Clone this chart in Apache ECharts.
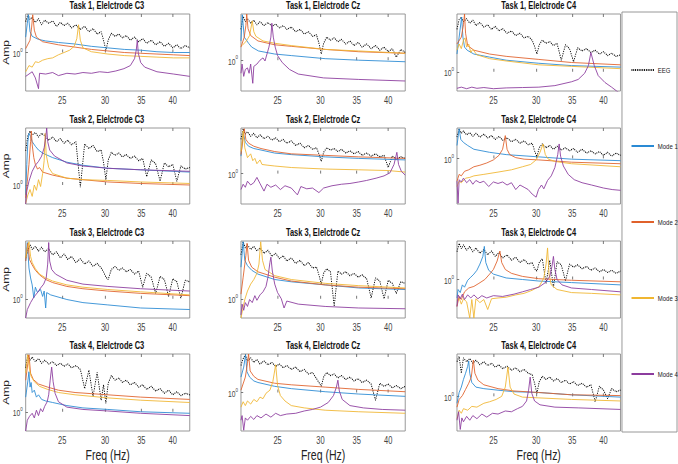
<!DOCTYPE html>
<html>
<head>
<meta charset="utf-8">
<script src="https://cdn.jsdelivr.net/npm/echarts@6/dist/echarts.min.js"></script>
<style>
html,body{margin:0;padding:0;background:#fff;overflow:hidden;}
#wrap{width:678px;height:464px;overflow:hidden;position:relative;background:#fff;}
#chart{width:904px;height:464px;transform:scaleX(0.75);transform-origin:0 0;}
</style>
</head>
<body>
<div id="wrap"><div id="chart"></div></div>
<script>
// ---------------- DATA (frequency in Hz, amplitude as log10(Amp)) ----------------
const SERIES_NAMES = ['EEG', 'Mode 1', 'Mode 2', 'Mode 3', 'Mode 4'];
const X_TICKS = [25, 30, 35, 40];
const X_RANGE = [21.4, 43];
const EEG_FREQ = [21.4,21.6,21.8,22.0,22.3,22.6,22.9,23.2,23.6,24.0,24.4,24.8,25.2,25.6,26.0,26.5,27.0,27.5,28.0,28.5,29.0,29.5,29.8,30.1,30.4,30.8,31.3,31.8,32.3,32.8,33.4,34.0,34.6,35.2,35.8,36.5,37.2,37.9,38.6,39.3,40.0,40.7,41.4,42.2,43.0];

// Task 1, C3
const t1_c3_eeg = [0.40,0.49,0.43,0.46,0.39,0.44,0.36,0.42,0.38,0.41,0.34,0.39,0.35,0.38,0.32,0.36,0.30,0.34,0.27,0.31,0.24,0.27,0.16,0.03,0.16,0.25,0.21,0.24,0.19,0.22,0.16,0.20,0.14,0.18,0.12,0.16,0.10,0.14,0.08,0.12,0.06,0.10,0.05,0.09,0.06];
const t1_c3_m1 = [[21.4,0.20],[21.55,0.38],[21.65,0.49],[21.8,0.27],[22.0,0.21],[22.6,0.17],[23.3,0.15],[24.6,0.13],[26.4,0.11],[28.3,0.08],[30.35,0.06],[32.55,0.04],[34.9,0.03],[37.4,0.01],[40.15,0.00],[43,0.00]];
const t1_c3_m2 = [[21.4,0.05],[21.8,0.16],[21.95,0.33],[22.05,0.49],[22.2,0.29],[22.4,0.20],[23.0,0.14],[24.6,0.10],[26.4,0.07],[28.3,0.04],[30.35,0.02],[32.55,0.00],[34.9,-0.01],[37.4,-0.02],[40.15,-0.03],[43,-0.04]];
const t1_c3_m3 = [[21.4,-0.25],[21.7,-0.17],[22.0,-0.19],[22.3,-0.12],[22.6,-0.13],[23.0,-0.10],[23.5,-0.08],[24.0,-0.07],[24.6,-0.03],[25.2,0.00],[25.8,0.03],[26.3,0.08],[26.6,0.18],[26.8,0.36],[27.0,0.16],[27.3,0.06],[28.3,0.01],[30.35,-0.02],[32.55,-0.04],[34.9,-0.05],[37.4,-0.06],[40.15,-0.07],[43,-0.07]];
const t1_c3_m4 = [[21.4,-0.31],[21.7,-0.28],[22.0,-0.25],[22.3,-0.33],[22.6,-0.47],[22.7,-0.27],[23.3,-0.28],[24.0,-0.26],[24.6,-0.30],[25.5,-0.27],[26.4,-0.28],[27.3,-0.26],[28.3,-0.27],[29.3,-0.25],[30.35,-0.26],[31.4,-0.24],[32.5,-0.21],[33.4,-0.17],[34.0,-0.08],[34.25,0.03],[34.4,0.16],[34.55,-0.01],[34.9,-0.13],[35.5,-0.19],[37.4,-0.25],[40.15,-0.28],[43,-0.31]];

// Task 1, Cz
const t1_cz_eeg = [0.40,0.57,0.50,0.54,0.48,0.52,0.46,0.50,0.45,0.49,0.44,0.47,0.42,0.45,0.40,0.43,0.37,0.40,0.34,0.37,0.31,0.33,0.22,0.08,0.22,0.30,0.26,0.29,0.24,0.27,0.21,0.25,0.19,0.23,0.17,0.21,0.15,0.19,0.13,0.17,0.11,0.15,0.04,0.14,0.10];
const t1_cz_m1 = [[21.4,0.25],[21.52,0.59],[21.7,0.30],[22.1,0.22],[22.4,0.17],[23.05,0.12],[24.7,0.08],[26.5,0.06],[30.6,0.02],[35.3,0.00],[43,-0.02]];
const t1_cz_m2 = [[21.4,0.17],[21.7,0.30],[21.85,0.45],[21.93,0.60],[22.05,0.41],[22.3,0.32],[23.0,0.25],[24.7,0.20],[26.5,0.18],[30.6,0.14],[35.3,0.11],[43,0.09]];
const t1_cz_m3 = [[21.5,0.19],[21.9,0.25],[22.2,0.32],[22.45,0.51],[22.6,0.37],[22.8,0.31],[23.5,0.25],[24.7,0.22],[26.5,0.19],[30.6,0.14],[35.3,0.12],[43,0.09]];
const t1_cz_m4 = [[21.4,-0.17],[21.5,-0.05],[21.65,-0.21],[21.8,-0.12],[22.0,-0.10],[22.15,-0.17],[22.3,-0.05],[22.5,-0.30],[22.6,-0.08],[22.9,-0.05],[23.2,0.00],[23.5,0.03],[23.7,-0.01],[23.9,0.08],[24.1,0.17],[24.3,0.30],[24.4,0.48],[24.55,0.30],[24.75,0.17],[25.0,0.06],[25.5,-0.03],[26.3,-0.12],[27.3,-0.18],[30.4,-0.23],[35.3,-0.25],[43,-0.27]];

// Task 1, C4
const t1_c4_eeg = [0.55,0.68,0.71,0.65,0.69,0.63,0.67,0.60,0.64,0.58,0.61,0.55,0.59,0.53,0.56,0.50,0.53,0.47,0.50,0.44,0.46,0.41,0.33,0.23,0.35,0.41,0.37,0.39,0.34,0.37,0.15,0.35,0.30,0.13,0.31,0.27,0.30,0.25,0.28,0.23,0.26,0.21,0.24,0.20,0.22];
const t1_c4_m1 = [[21.4,0.23],[21.6,0.45],[21.83,0.71],[21.95,0.45],[22.1,0.32],[22.35,0.28],[23.0,0.23],[24.6,0.19],[26.4,0.15],[30.35,0.11],[34.9,0.08],[43,0.06]];
const t1_c4_m2 = [[21.4,0.36],[21.8,0.45],[22.0,0.61],[22.1,0.75],[22.2,0.50],[22.4,0.34],[23.0,0.28],[24.6,0.23],[26.4,0.20],[30.35,0.16],[34.9,0.12],[43,0.09]];
const t1_c4_m3 = [[21.4,0.28],[21.6,0.36],[21.8,0.30],[22.0,0.41],[22.15,0.44],[22.3,0.32],[22.5,0.36],[22.7,0.25],[22.9,0.29],[23.3,0.22],[24.6,0.17],[26.4,0.14],[30.35,0.09],[34.9,0.07],[43,0.04]];
const t1_c4_m4 = [[21.4,-0.215],[21.8,-0.20],[22.3,-0.22],[22.8,-0.20],[23.3,-0.215],[24.0,-0.205],[25.0,-0.22],[26.4,-0.21],[28.3,-0.205],[30.35,-0.20],[32.5,-0.18],[34.9,-0.13],[35.9,-0.10],[36.9,-0.02],[37.5,0.08],[37.9,0.25],[38.45,0.08],[39.1,-0.05],[40.25,-0.14],[41.4,-0.20],[42.3,-0.25],[43,-0.285]];

// Task 2, C3
const t2_c3_eeg = [0.45,0.65,0.71,0.66,0.69,0.63,0.68,0.65,0.59,0.63,0.57,0.61,0.55,0.59,0.53,0.57,-0.03,0.54,0.48,0.52,0.44,0.46,0.30,0.07,0.33,0.43,0.39,0.42,0.37,0.40,0.35,0.38,0.32,0.35,0.11,0.33,0.28,0.05,0.29,0.24,0.27,0.05,0.25,0.21,0.23];
const t2_c3_m1 = [[21.4,-0.13],[21.5,0.27],[21.6,0.57],[21.7,0.68],[21.85,0.64],[22.0,0.57],[22.3,0.51],[22.6,0.46],[23.0,0.42],[24.0,0.36],[25.5,0.30],[27.3,0.26],[30.35,0.22],[34.9,0.20],[43,0.17]];
const t2_c3_m2 = [[21.4,-0.17],[21.55,0.05],[21.7,0.27],[21.85,0.57],[21.92,0.71],[22.0,0.53],[22.15,0.36],[22.3,0.27],[22.5,0.21],[22.7,0.23],[23.0,0.17],[24.0,0.13],[25.5,0.09],[27.3,0.07],[30.35,0.04],[34.9,0.02],[43,0.00]];
const t2_c3_m3 = [[21.4,-0.24],[21.6,-0.13],[21.8,-0.06],[22.0,-0.15],[22.2,0.00],[22.4,-0.07],[22.6,0.07],[22.8,-0.02],[23.0,0.15],[23.15,0.32],[23.25,0.68],[23.35,0.40],[23.6,0.23],[24.0,0.15],[25.5,0.09],[27.3,0.07],[30.35,0.06],[34.9,0.04],[43,0.02]];
const t2_c3_m4 = [[21.4,-0.25],[21.5,-0.08],[21.7,0.05],[22.0,0.18],[22.3,0.26],[22.6,0.31],[22.9,0.38],[23.15,0.49],[23.3,0.62],[23.4,0.75],[23.5,0.57],[23.7,0.46],[24.2,0.38],[25.5,0.29],[27.3,0.25],[30.35,0.22],[34.9,0.20],[43,0.18]];

// Task 2, Cz
const t2_cz_eeg = [0.45,0.59,0.52,0.55,0.49,0.53,0.47,0.51,0.46,0.49,0.44,0.47,0.42,0.45,0.40,0.43,0.37,0.40,0.34,0.37,0.32,0.34,0.26,0.16,0.28,0.34,0.31,0.33,0.29,0.32,0.27,0.30,0.26,0.29,0.24,0.27,0.23,0.26,0.22,0.24,0.08,0.23,0.19,0.22,0.20];
const t2_cz_m1 = [[21.4,0.23],[21.6,0.54],[21.8,0.41],[22.1,0.36],[22.6,0.33],[23.3,0.31],[24.7,0.27],[26.5,0.25],[30.6,0.22],[35.3,0.20],[43,0.18]];
const t2_cz_m2 = [[21.4,0.25],[21.6,0.48],[21.7,0.59],[21.85,0.45],[22.1,0.40],[22.6,0.36],[23.3,0.33],[24.7,0.29],[26.5,0.26],[30.6,0.24],[35.3,0.22],[43,0.20]];
const t2_cz_m3 = [[21.4,0.29],[21.6,0.56],[21.75,0.34],[22.0,0.21],[22.3,0.26],[22.5,0.17],[22.7,0.20],[22.9,0.13],[23.2,0.18],[23.4,0.12],[24.0,0.11],[24.7,0.10],[26.5,0.08],[30.6,0.06],[35.3,0.05],[40.0,0.04],[43,0.02]];
const t2_cz_m4 = [[21.4,-0.21],[21.6,-0.14],[21.8,-0.18],[22.0,-0.10],[22.3,-0.15],[22.6,-0.12],[22.9,-0.05],[23.2,-0.13],[23.6,-0.23],[23.9,-0.14],[24.3,-0.18],[24.8,-0.15],[25.3,-0.21],[25.8,-0.16],[26.5,-0.19],[27.2,-0.28],[27.6,-0.17],[28.3,-0.20],[29.0,-0.19],[29.8,-0.25],[30.4,-0.19],[31.5,-0.16],[32.8,-0.14],[34.0,-0.13],[35.3,-0.11],[36.5,-0.09],[38.0,-0.06],[39.3,-0.03],[40.3,0.01],[41.0,0.12],[41.5,0.28],[41.8,0.12],[42.3,0.03],[43,-0.02]];

// Task 2, C4
const t2_c4_eeg = [0.28,0.39,0.33,0.36,0.31,0.34,0.29,0.33,0.28,0.32,0.27,0.30,0.25,0.29,0.24,0.27,0.22,0.25,0.20,0.23,0.18,0.20,0.10,0.02,0.14,0.19,0.14,0.17,0.12,0.16,0.11,0.14,0.10,0.13,0.08,0.12,0.07,0.10,0.06,0.09,0.04,0.08,0.03,0.07,0.04];
const t2_c4_m1 = [[21.4,0.17],[21.6,0.39],[21.75,0.25],[22.0,0.21],[22.4,0.17],[23.0,0.12],[24.6,0.08],[26.4,0.05],[30.35,0.02],[34.9,-0.01],[43,-0.03]];
const t2_c4_m2 = [[21.4,-0.30],[21.6,-0.21],[21.8,-0.23],[22.1,-0.17],[22.5,-0.15],[23.0,-0.11],[23.6,-0.09],[24.3,-0.06],[25.0,-0.02],[25.6,0.04],[26.0,0.12],[26.3,0.30],[26.5,0.12],[26.8,0.05],[27.5,0.01],[28.5,-0.01],[30.35,-0.02],[34.9,-0.05],[43,-0.07]];
const t2_c4_m3 = [[21.4,-0.37],[21.6,-0.30],[21.8,-0.32],[22.2,-0.26],[22.6,-0.25],[23.0,-0.23],[24.0,-0.21],[25.5,-0.18],[27.0,-0.15],[28.3,-0.11],[29.3,-0.08],[30.0,-0.02],[30.5,0.08],[30.9,0.19],[31.2,0.05],[31.6,-0.01],[32.5,-0.04],[34.9,-0.07],[43,-0.11]];
const t2_c4_m4 = [[21.4,-0.30],[21.5,-0.59],[21.6,-0.28],[21.8,-0.31],[22.0,-0.26],[22.3,-0.32],[22.6,-0.28],[22.9,-0.34],[23.2,-0.29],[23.6,-0.32],[24.0,-0.30],[24.5,-0.37],[25.0,-0.31],[25.5,-0.33],[26.0,-0.31],[26.5,-0.35],[27.0,-0.32],[27.5,-0.41],[28.0,-0.35],[28.5,-0.38],[29.0,-0.41],[29.5,-0.47],[30.0,-0.51],[30.3,-0.41],[30.7,-0.35],[31.0,-0.40],[31.5,-0.29],[32.0,-0.23],[32.5,-0.12],[32.9,0.05],[33.1,0.19],[33.3,0.03],[33.7,-0.10],[34.4,-0.21],[35.3,-0.28],[36.5,-0.32],[38.0,-0.35],[40.0,-0.39],[41.5,-0.41],[43,-0.42]];

// Task 3, C3
const t3_c3_eeg = [0.53,0.63,0.70,0.64,0.68,0.62,0.67,0.61,0.65,0.57,0.61,0.53,0.58,0.51,0.55,0.47,0.52,0.45,0.49,0.42,0.46,0.40,0.35,0.28,0.25,0.38,0.42,0.37,0.40,0.35,0.38,0.32,0.36,0.15,0.33,0.28,0.07,0.29,0.25,0.03,0.26,0.22,0.01,0.24,0.22];
const t3_c3_m1 = [[21.4,0.49],[21.55,0.73],[21.7,0.40],[21.85,0.27],[22.0,0.18],[22.15,0.01],[22.3,0.15],[22.5,0.08],[22.8,0.12],[23.0,0.03],[23.15,0.10],[23.3,-0.12],[23.4,0.08],[23.8,0.05],[25.5,-0.01],[27.3,-0.05],[30.35,-0.08],[34.9,-0.12],[43,-0.14]];
const t3_c3_m2 = [[21.4,0.49],[21.6,0.72],[21.75,0.51],[22.0,0.44],[22.3,0.37],[22.7,0.31],[23.3,0.25],[24.0,0.21],[25.5,0.16],[27.3,0.13],[30.35,0.10],[34.9,0.07],[43,0.04]];
const t3_c3_m3 = [[21.4,0.53],[21.55,0.66],[21.7,0.74],[21.85,0.55],[22.0,0.47],[22.3,0.39],[22.7,0.32],[23.3,0.27],[24.0,0.23],[25.5,0.18],[27.3,0.15],[30.35,0.12],[34.9,0.09],[43,0.05]];
const t3_c3_m4 = [[21.4,-0.25],[21.55,-0.14],[21.85,-0.05],[22.15,0.02],[22.5,0.08],[22.8,0.14],[23.1,0.19],[23.35,0.27],[23.5,0.45],[23.6,0.73],[23.7,0.49],[23.9,0.38],[24.3,0.32],[25.5,0.24],[27.3,0.19],[30.35,0.16],[34.9,0.13],[43,0.10]];

// Task 3, Cz
const t3_cz_eeg = [0.57,0.74,0.66,0.70,0.64,0.68,0.62,0.66,0.59,0.63,0.55,0.59,0.52,0.56,0.49,0.53,0.46,0.50,0.43,0.47,0.40,0.41,0.31,0.19,0.33,0.39,0.35,-0.10,0.36,0.32,0.35,0.30,0.33,0.28,0.31,0.26,0.01,0.27,0.23,0.00,0.24,0.20,0.07,0.22,0.20];
const t3_cz_m1 = [[21.4,0.41],[21.6,0.74],[21.75,0.50],[22.0,0.43],[22.4,0.37],[23.0,0.32],[24.7,0.25],[26.5,0.22],[30.6,0.18],[35.3,0.14],[43,0.12]];
const t3_cz_m2 = [[21.4,0.06],[21.6,0.28],[21.75,0.45],[21.85,0.56],[21.96,0.72],[22.1,0.50],[22.4,0.41],[23.0,0.35],[24.7,0.28],[26.5,0.23],[30.6,0.18],[35.3,0.15],[43,0.13]];
const t3_cz_m3 = [[21.4,-0.25],[21.55,-0.14],[21.75,-0.01],[22.0,0.10],[22.3,0.19],[22.6,0.25],[22.9,0.33],[23.1,0.45],[23.27,0.74],[23.45,0.50],[23.7,0.38],[24.7,0.30],[26.5,0.25],[30.6,0.20],[35.3,0.17],[43,0.14]];
const t3_cz_m4 = [[21.4,-0.21],[21.5,-0.07],[21.65,-0.15],[21.8,-0.05],[22.0,-0.10],[22.2,-0.01],[22.45,-0.05],[22.7,0.04],[22.9,-0.02],[23.2,0.05],[23.5,0.09],[23.8,0.16],[24.0,0.28],[24.2,0.47],[24.3,0.54],[24.45,0.36],[24.7,0.19],[25.0,0.08],[25.4,0.00],[25.7,-0.12],[26.0,-0.03],[27.3,-0.07],[30.6,-0.10],[35.3,-0.12],[43,-0.13]];

// Task 3, C4
const t3_c4_eeg = [0.36,0.47,0.40,0.45,0.38,0.43,0.36,0.41,0.34,0.39,0.32,0.37,0.30,0.35,0.28,0.32,0.25,0.29,0.22,0.26,0.20,0.22,0.14,0.11,0.22,0.27,-0.05,0.25,-0.10,0.23,0.19,-0.02,0.20,0.16,0.19,0.14,0.17,0.12,0.15,0.10,0.13,0.09,0.12,0.08,0.11];
const t3_c4_m1 = [[21.4,-0.24],[21.5,-0.13],[21.7,-0.17],[21.9,-0.07],[22.1,-0.10],[22.4,-0.01],[22.7,0.03],[23.0,0.07],[23.3,0.12],[23.6,0.20],[23.9,0.30],[24.05,0.43],[24.2,0.22],[24.5,0.12],[25.0,0.07],[26.4,0.02],[28.3,0.00],[30.35,-0.02],[34.9,-0.04],[43,-0.07]];
const t3_c4_m2 = [[21.4,-0.35],[21.6,-0.22],[21.8,-0.26],[22.1,-0.16],[22.5,-0.11],[23.0,-0.09],[23.5,-0.05],[24.1,0.00],[24.6,0.07],[25.0,0.13],[25.4,0.24],[25.7,0.37],[25.9,0.22],[26.3,0.13],[27.0,0.08],[28.3,0.04],[30.35,0.01],[34.9,-0.01],[43,-0.03]];
const t3_c4_m3 = [[21.4,-0.28],[21.6,-0.24],[21.8,-0.32],[22.0,-0.25],[22.3,-0.29],[22.6,-0.50],[22.8,-0.26],[23.0,-0.50],[23.2,-0.25],[23.6,-0.30],[24.0,-0.26],[24.4,-0.39],[24.8,-0.25],[25.5,-0.24],[26.4,-0.23],[27.5,-0.20],[28.5,-0.18],[29.5,-0.14],[30.4,-0.09],[31.0,0.02],[31.3,0.20],[31.5,0.41],[31.7,0.07],[32.0,-0.07],[32.8,-0.13],[34.9,-0.17],[38.0,-0.18],[43,-0.20]];
const t3_c4_m4 = [[21.4,-0.35],[21.5,-0.20],[21.7,-0.25],[21.9,-0.19],[22.1,-0.26],[22.4,-0.20],[22.7,-0.24],[23.0,-0.20],[23.4,-0.25],[23.8,-0.21],[24.3,-0.24],[25.0,-0.21],[26.0,-0.22],[27.3,-0.19],[28.3,-0.16],[29.3,-0.13],[30.35,-0.10],[31.2,-0.04],[31.8,0.04],[32.1,0.17],[32.3,0.30],[32.5,0.13],[32.8,0.00],[33.5,-0.07],[34.9,-0.11],[38.0,-0.13],[43,-0.16]];

// Task 4, C3
const t4_c3_eeg = [0.57,0.74,0.67,0.71,0.65,0.69,0.63,0.67,0.62,0.65,0.60,0.63,0.59,0.62,0.57,0.60,0.55,0.30,0.54,0.20,0.51,0.15,0.35,0.11,0.37,0.47,0.41,0.44,0.38,0.41,0.35,0.38,0.32,0.35,0.29,0.33,0.27,0.30,0.24,0.28,0.22,0.26,0.21,0.24,0.22];
const t4_c3_m1 = [[21.4,0.19],[21.6,0.40],[21.7,0.52],[21.8,0.32],[21.9,0.38],[22.0,0.25],[22.2,0.28],[22.4,0.19],[22.6,0.22],[22.9,0.16],[23.3,0.14],[24.0,0.12],[25.5,0.08],[27.3,0.05],[30.35,0.03],[34.9,0.00],[43,-0.02]];
const t4_c3_m2 = [[21.4,0.41],[21.6,0.63],[21.7,0.74],[21.85,0.50],[22.1,0.42],[22.6,0.36],[23.5,0.32],[24.6,0.28],[26.4,0.25],[30.35,0.22],[34.9,0.19],[43,0.16]];
const t4_c3_m3 = [[21.4,0.50],[21.58,0.74],[21.75,0.55],[21.9,0.46],[22.2,0.39],[22.7,0.33],[23.5,0.29],[24.6,0.25],[26.4,0.22],[30.35,0.18],[34.9,0.15],[43,0.12]];
const t4_c3_m4 = [[21.4,-0.25],[21.55,-0.11],[21.75,-0.06],[22.0,-0.02],[22.2,-0.08],[22.4,0.02],[22.6,-0.05],[22.8,0.04],[23.0,0.00],[23.2,0.07],[23.45,0.13],[23.6,0.22],[23.75,0.41],[23.9,0.58],[24.05,0.39],[24.25,0.24],[24.6,0.13],[25.5,0.06],[27.3,0.03],[30.35,0.01],[34.9,-0.02],[43,-0.05]];

// Task 4, Cz
const t4_cz_eeg = [0.35,0.44,0.49,0.41,0.45,0.39,0.43,0.37,0.41,0.36,0.39,0.34,0.37,0.32,0.35,0.30,0.33,0.27,0.30,0.24,0.26,0.18,0.13,0.08,0.20,0.26,0.22,0.24,0.19,0.22,0.17,0.20,0.15,0.18,0.13,0.16,0.11,-0.10,0.12,0.08,0.11,0.06,0.09,0.05,0.08];
const t4_cz_m1 = [[21.4,0.20],[21.65,0.33],[21.82,0.49],[21.95,0.27],[22.2,0.20],[22.6,0.15],[23.0,0.13],[24.7,0.08],[26.5,0.05],[30.6,0.01],[35.3,-0.02],[43,-0.05]];
const t4_cz_m2 = [[21.4,0.03],[21.8,0.20],[22.0,0.38],[22.1,0.50],[22.25,0.28],[22.6,0.21],[23.0,0.17],[24.7,0.12],[26.5,0.10],[30.6,0.07],[35.3,0.04],[43,0.01]];
const t4_cz_m3 = [[21.4,-0.19],[21.6,-0.12],[21.8,-0.17],[22.0,-0.11],[22.3,-0.15],[22.6,-0.09],[22.9,-0.12],[23.2,-0.06],[23.5,-0.08],[23.8,-0.01],[24.2,0.03],[24.5,0.14],[24.8,0.36],[25.0,0.09],[25.3,-0.04],[25.8,-0.11],[26.5,-0.17],[28.0,-0.20],[30.6,-0.23],[35.3,-0.25],[43,-0.27]];
const t4_cz_m4 = [[21.4,-0.36],[21.5,-0.30],[21.65,-0.49],[21.8,-0.33],[22.0,-0.36],[22.3,-0.31],[22.6,-0.35],[22.9,-0.30],[23.3,-0.33],[23.8,-0.28],[24.3,-0.32],[24.8,-0.27],[25.3,-0.30],[26.0,-0.28],[27.0,-0.27],[28.0,-0.24],[29.0,-0.22],[30.0,-0.19],[31.0,-0.13],[31.7,-0.04],[32.1,0.07],[32.3,0.16],[32.5,0.02],[32.9,-0.09],[34.0,-0.17],[36.0,-0.20],[39.0,-0.22],[43,-0.23]];

// Task 4, C4
const t4_c4_eeg = [0.45,0.52,0.30,0.50,0.45,0.49,0.43,0.47,0.41,0.45,0.40,0.43,0.38,0.41,0.36,0.39,0.34,0.37,0.32,0.35,0.30,0.28,0.17,0.04,0.19,0.26,0.22,0.25,0.20,0.23,0.18,0.21,0.16,0.19,0.14,0.17,0.12,0.15,-0.07,0.13,0.08,-0.03,0.10,0.06,0.08];
const t4_c4_m1 = [[21.4,-0.09],[21.6,0.05],[21.8,0.12],[22.0,0.22],[22.2,0.30],[22.4,0.39],[22.5,0.46],[22.6,0.30],[22.8,0.18],[23.2,0.12],[24.0,0.10],[25.5,0.08],[27.3,0.06],[30.35,0.05],[34.9,0.02],[43,-0.01]];
const t4_c4_m2 = [[21.4,-0.14],[21.6,-0.04],[21.9,0.01],[22.2,0.09],[22.5,0.17],[22.75,0.25],[22.95,0.47],[23.1,0.30],[23.4,0.21],[24.0,0.15],[25.5,0.10],[27.3,0.07],[30.35,0.05],[34.9,0.02],[43,0.01]];
const t4_c4_m3 = [[21.4,-0.29],[21.6,-0.18],[21.8,-0.22],[22.0,-0.16],[22.4,-0.18],[22.8,-0.13],[23.3,-0.14],[24.0,-0.09],[24.6,-0.07],[25.3,-0.04],[25.9,0.00],[26.3,0.12],[26.6,0.38],[26.85,0.12],[27.3,0.03],[28.3,-0.01],[30.35,-0.02],[34.9,-0.04],[43,-0.06]];
const t4_c4_m4 = [[21.4,-0.31],[21.55,-0.20],[21.7,-0.43],[21.85,-0.28],[22.0,-0.33],[22.3,-0.26],[22.6,-0.31],[22.9,-0.25],[23.3,-0.29],[23.8,-0.23],[24.3,-0.27],[24.9,-0.22],[25.5,-0.23],[26.3,-0.19],[27.0,-0.20],[27.7,-0.16],[28.3,-0.13],[28.8,-0.06],[29.05,0.08],[29.25,0.25],[29.45,0.04],[29.8,-0.06],[30.5,-0.11],[32.5,-0.14],[36.0,-0.15],[43,-0.17]];

// panel titles and log10(Amp) lower limits (each panel spans one decade)
const PANEL_TITLES = ['Task 1, Elelctrode C3','Task 1, Elelctrode Cz','Task 1, Elelctrode C4',
                      'Task 2, Elelctrode C3','Task 2, Elelctrode Cz','Task 2, Elelctrode C4',
                      'Task 3, Elelctrode C3','Task 3, Elelctrode Cz','Task 3, Elelctrode C4',
                      'Task 4, Elelctrode C3','Task 4, Elelctrode Cz','Task 4, Elelctrode C4'];
const PANEL_YMIN = [-0.5,-0.4,-0.25, -0.25,-0.4,-0.6, -0.25,-0.25,-0.5, -0.25,-0.5,-0.45];
const PANEL_EEG = [t1_c3_eeg,t1_cz_eeg,t1_c4_eeg,t2_c3_eeg,t2_cz_eeg,t2_c4_eeg,t3_c3_eeg,t3_cz_eeg,t3_c4_eeg,t4_c3_eeg,t4_cz_eeg,t4_c4_eeg];
const PANEL_MODES = [
  [t1_c3_m1,t1_c3_m2,t1_c3_m3,t1_c3_m4],[t1_cz_m1,t1_cz_m2,t1_cz_m3,t1_cz_m4],[t1_c4_m1,t1_c4_m2,t1_c4_m3,t1_c4_m4],
  [t2_c3_m1,t2_c3_m2,t2_c3_m3,t2_c3_m4],[t2_cz_m1,t2_cz_m2,t2_cz_m3,t2_cz_m4],[t2_c4_m1,t2_c4_m2,t2_c4_m3,t2_c4_m4],
  [t3_c3_m1,t3_c3_m2,t3_c3_m3,t3_c3_m4],[t3_cz_m1,t3_cz_m2,t3_cz_m3,t3_cz_m4],[t3_c4_m1,t3_c4_m2,t3_c4_m3,t3_c4_m4],
  [t4_c3_m1,t4_c3_m2,t4_c3_m3,t4_c3_m4],[t4_cz_m1,t4_cz_m2,t4_cz_m3,t4_cz_m4],[t4_c4_m1,t4_c4_m2,t4_c4_m3,t4_c4_m4]
];

// ---------------- LAYOUT / STYLE ----------------
const FONT = 'Liberation Sans, Arial, Helvetica, sans-serif';
const COLORS = ['#000000', '#2a8ad4', '#e0612b', '#f0b631', '#8c3c9e'];
const COL_LEFT = [32, 321.3, 609.3], COL_W = [221, 219, 218];
const ROW_TOP = [14, 128, 241, 354], ROW_H = [77, 76, 77, 77];
const lg = Math.log10;

const grids = [], xAxes = [], yAxes = [], series = [], graphics = [];
const tickVals = X_TICKS.map(lg);

PANEL_TITLES.forEach((title, i) => {
  const row = Math.floor(i / 3), col = i % 3;
  grids.push({left: COL_LEFT[col], top: ROW_TOP[row], width: COL_W[col], height: ROW_H[row],
    show: true, borderColor: '#8a8a8a', borderWidth: 1, backgroundColor: '#fff'});
  xAxes.push({gridIndex: i, type: 'value', min: lg(X_RANGE[0]), max: lg(X_RANGE[1]),
    axisLine: {show: false}, splitLine: {show: false},
    axisTick: {show: true, inside: true, length: 3, customValues: tickVals, lineStyle: {color: '#666'}},
    axisLabel: {customValues: tickVals, formatter: v => String(Math.round(Math.pow(10, v))),
      fontSize: 10, color: '#444', margin: 5, fontFamily: FONT},
    name: row === 3 ? 'Freq (Hz)' : '', nameLocation: 'middle', nameGap: 17,
    nameTextStyle: {fontSize: 14, color: '#222', fontFamily: FONT}});
  xAxes.push({gridIndex: i, type: 'value', position: 'top', min: lg(X_RANGE[0]), max: lg(X_RANGE[1]),
    axisLine: {show: false}, splitLine: {show: false}, axisLabel: {show: false},
    axisTick: {show: true, inside: true, length: 3, customValues: tickVals, lineStyle: {color: '#666'}}});
  yAxes.push({gridIndex: i, type: 'value', min: PANEL_YMIN[i], max: PANEL_YMIN[i] + 1,
    axisLine: {show: false}, splitLine: {show: false},
    axisTick: {show: true, inside: true, length: 3, customValues: [0], lineStyle: {color: '#666'}},
    axisLabel: {customValues: [0], margin: 4, formatter: () => '{a|10}{b|0}',
      rich: {a: {fontSize: 9, color: '#444', fontFamily: FONT, lineHeight: 12, verticalAlign: 'bottom'},
             b: {fontSize: 6, color: '#444', fontFamily: FONT, lineHeight: 12, verticalAlign: 'top'}}},
    name: col === 0 ? 'Amp' : '', nameLocation: 'middle', nameGap: 16,
    nameTextStyle: {fontSize: 12, color: '#222', fontFamily: FONT}});

  const eegData = EEG_FREQ.map((f, k) => [lg(f), PANEL_EEG[i][k]]);
  const all = [eegData].concat(PANEL_MODES[i].map(arr => arr.map(([f, v]) => [lg(f), v])));
  all.forEach((d, s) => {
    series.push({type: 'line', name: SERIES_NAMES[s], xAxisIndex: 2 * i, yAxisIndex: i, data: d,
      symbol: 'none', showSymbol: false, silent: true, animation: false, clip: true, z: 2 + s,
      itemStyle: {color: COLORS[s]},
      lineStyle: {color: COLORS[s], width: s === 0 ? 1.2 : 1, type: s === 0 ? [1.2, 1.2] : 'solid'}});
  });

  graphics.push({type: 'text', x: COL_LEFT[col] + COL_W[col] / 2, y: ROW_TOP[row] - 8, silent: true,
    style: {text: title, fill: '#111', font: 'bold 10px ' + FONT, align: 'center', verticalAlign: 'middle'}});
});

graphics.push({type: 'rect', silent: true, shape: {x: 829.3, y: 12, width: 73.4, height: 420},
  style: {fill: 'none', stroke: '#8a8a8a', lineWidth: 1}});

const chart = echarts.init(document.getElementById('chart'), null, {renderer: 'svg', width: 904, height: 464});
chart.setOption({
  animation: false,
  backgroundColor: '#fff',
  grid: grids, xAxis: xAxes, yAxis: yAxes, series: series,
  legend: {data: SERIES_NAMES, orient: 'vertical', left: 836, top: 61, itemGap: 68,
    itemWidth: 30, itemHeight: 10, selectedMode: false,
    itemStyle: {opacity: 0},
    textStyle: {fontSize: 8, color: '#222', fontFamily: FONT}},
  graphic: graphics
});
</script>
</body>
</html>
